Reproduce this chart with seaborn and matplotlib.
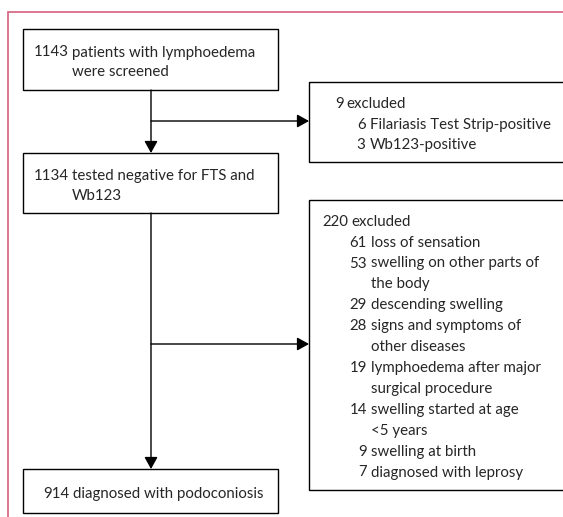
import matplotlib
matplotlib.use("Agg")
import matplotlib.pyplot as plt
from matplotlib.patches import Rectangle
import seaborn as sns

# flow counts and labels
screened_n = "1143"
screened_text = ["patients with lymphoedema", "were screened"]

excl1_n = "9"
excl1_text = "excluded"
excl1_counts = ["6", "3"]
excl1_reasons = [["Filariasis Test Strip-positive"], ["Wb123-positive"]]

tested_n = "1134"
tested_text = ["tested negative for FTS and", "Wb123"]

excl2_n = "220"
excl2_text = "excluded"
excl2_counts = ["61", "53", "29", "28", "19", "14", "9", "7"]
excl2_reasons = [
    ["loss of sensation"],
    ["swelling on other parts of", "the body"],
    ["descending swelling"],
    ["signs and symptoms of", "other diseases"],
    ["lymphoedema after major", "surgical procedure"],
    ["swelling started at age", "<5 years"],
    ["swelling at birth"],
    ["diagnosed with leprosy"],
]

final_n = "914"
final_text = ["diagnosed with podoconiosis"]

sns.set_style("white")
plt.rcParams["font.family"] = ["Lato", "DejaVu Sans"]
FS = 10.8
LW = 1.0

fig = plt.figure(figsize=(5.63, 5.17), dpi=100)
ax = fig.add_axes([0, 0, 1, 1])
ax.set_xlim(0, 563)
ax.set_ylim(517, 0)
ax.axis("off")

# pink frame
ax.plot([8, 8, 570], [520, 12, 12], color="#d6607e", lw=1.2, solid_joinstyle="miter")


def box(x, y, w, h):
    ax.add_patch(Rectangle((x, y), w, h, fill=False, ec="black", lw=LW))


def entry(xr, y, num, lines, gap=4.5, step=20.5):
    ax.text(xr, y, num, ha="right", va="baseline", fontsize=FS)
    for i, t in enumerate(lines):
        ax.text(xr + gap, y + i * step, t, ha="left", va="baseline", fontsize=FS)
    return y + len(lines) * step


def arrow(x0, y0, x1, y1):
    ax.annotate("", xy=(x1, y1), xytext=(x0, y0),
                arrowprops=dict(arrowstyle="-|>,head_length=0.72,head_width=0.4",
                                color="black", lw=LW, shrinkA=0, shrinkB=0,
                                mutation_scale=10))


# boxes
box(23, 29, 255, 61)
box(23, 153, 255, 60)
box(23, 469, 255, 44)
box(309, 82, 300, 80)
box(309, 200, 300, 289.5)

# main flow
arrow(151, 90, 151, 153)
arrow(151, 213, 151, 469)
arrow(151, 121, 309, 121)
arrow(151, 344, 309, 344)

# texts
entry(68.5, 56.5, screened_n, screened_text, gap=3.5, step=19.5)
entry(68.5, 180, tested_n, tested_text, gap=3.5, step=20)
entry(69.5, 498, final_n, final_text, gap=3.5)

y = entry(343.5, 108.3, excl1_n, [excl1_text], gap=3, step=20.5)
for c, r in zip(excl1_counts, excl1_reasons):
    y = entry(365.5, y, c, r, gap=4.5, step=20.5)

y = entry(348, 225.7, excl2_n, [excl2_text], gap=3, step=20.9)
for c, r in zip(excl2_counts, excl2_reasons):
    y = entry(367, y, c, r, gap=4, step=20.9)

fig.savefig("out.png", dpi=100)
